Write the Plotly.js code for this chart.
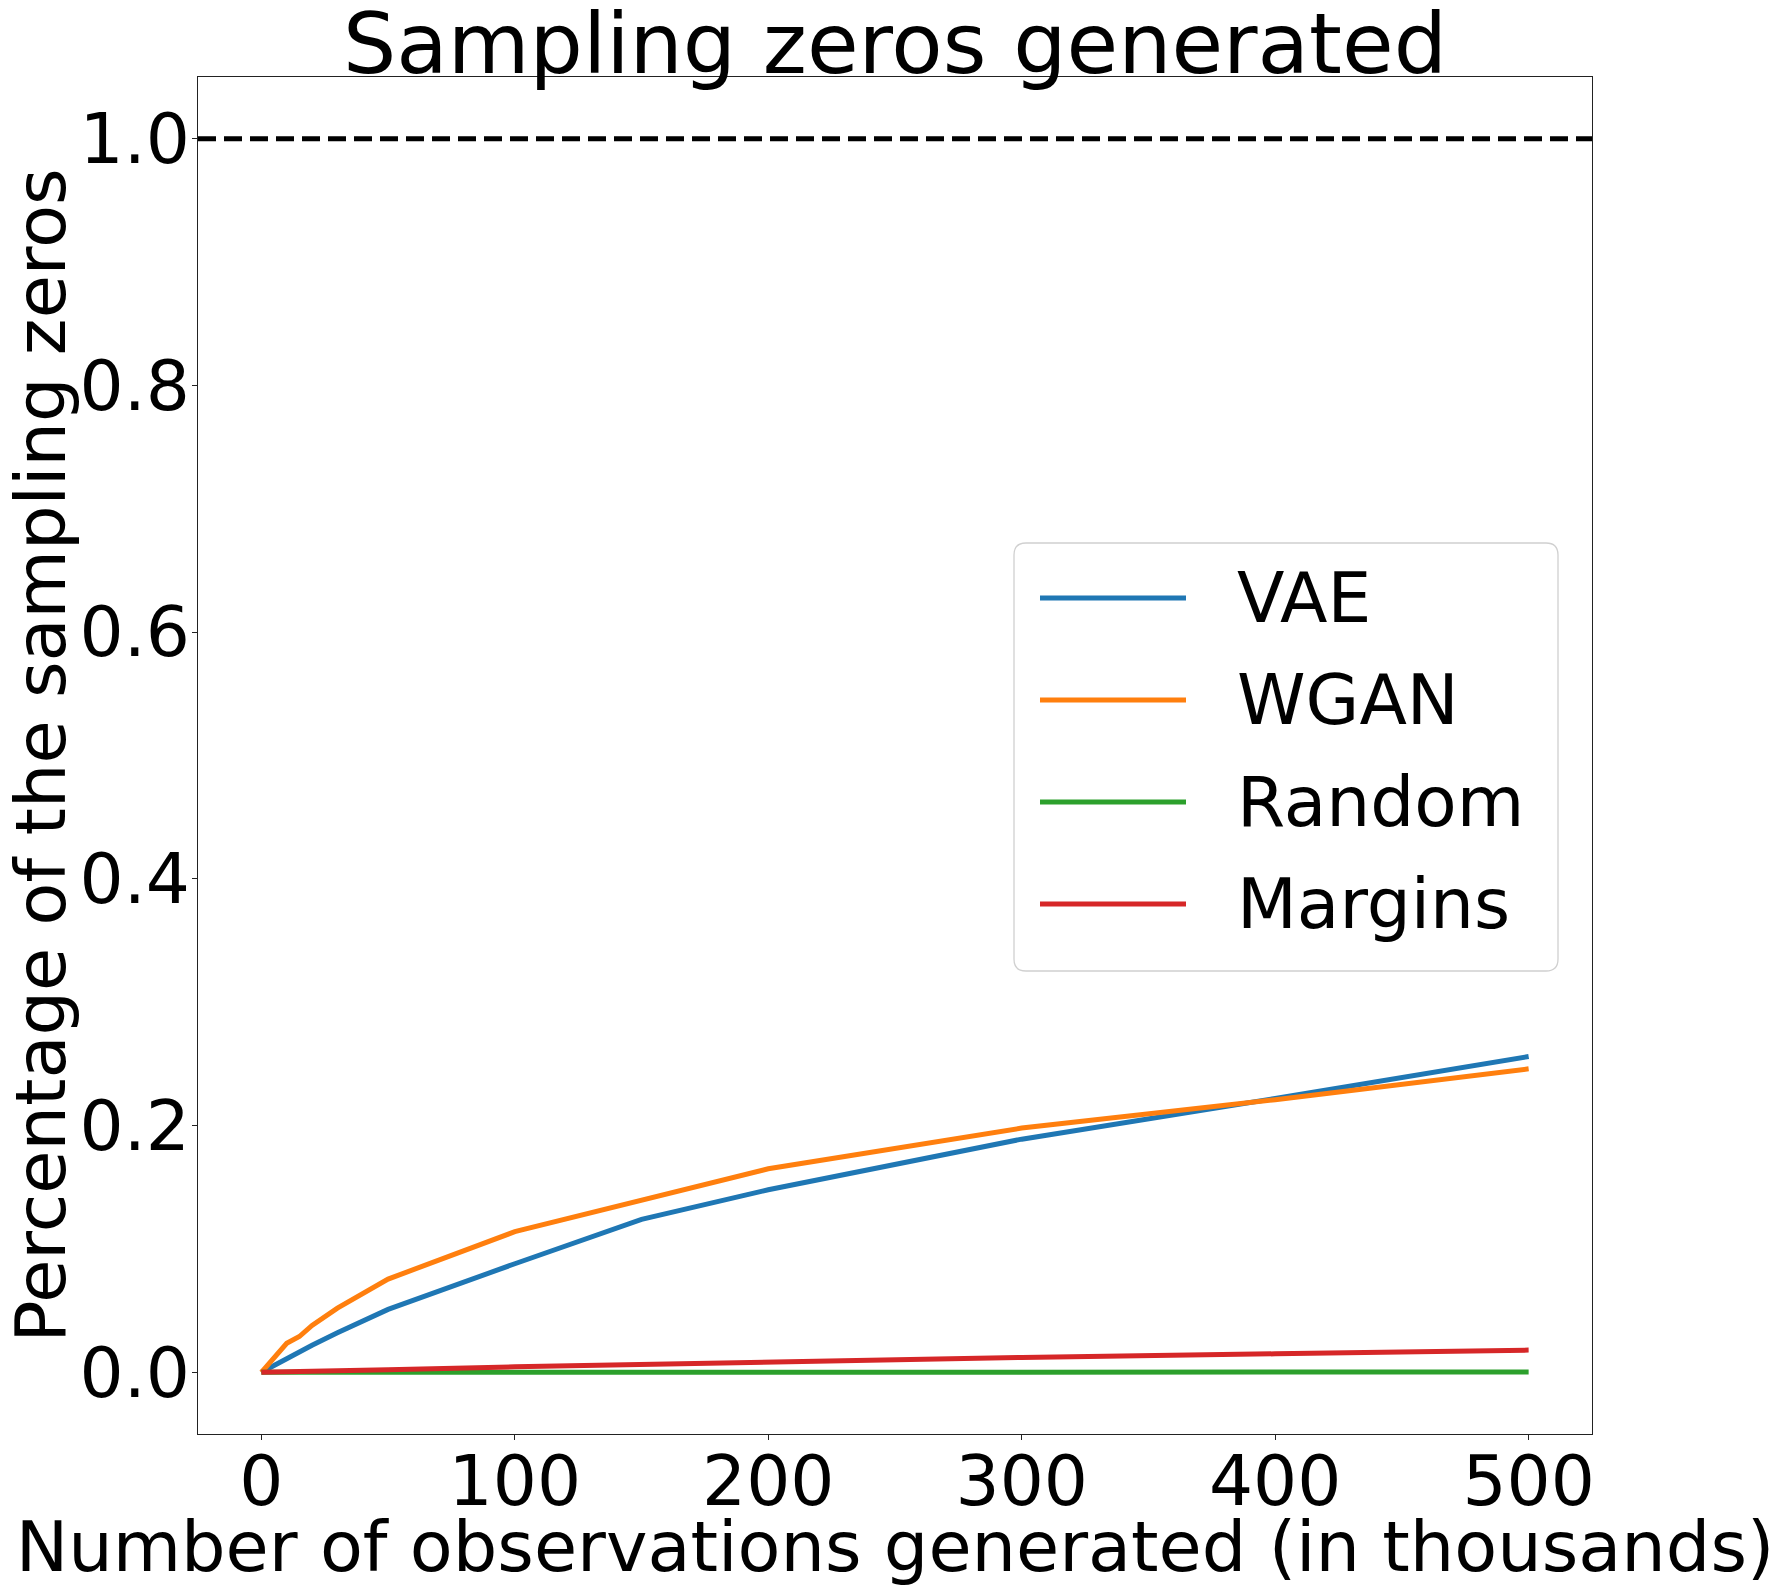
<!DOCTYPE html>
<html>
<head>
<meta charset="utf-8">
<script src="https://cdn.plot.ly/plotly-3.0.1.min.js"></script>
<style>html,body{margin:0;padding:0;background:#fff;}#chart{width:1778px;height:1588px;}</style>
</head>
<body>
<div id="chart"></div>
<script>
// ---- data ----
const xObs = [0, 10, 15, 20, 30, 50, 100, 150, 200, 300, 400, 500];
const vae = [0, 0.011, 0.017, 0.022, 0.032, 0.051, 0.088, 0.124, 0.148, 0.189, 0.222, 0.256];
const wgan = [0, 0.0235, 0.029, 0.038, 0.052, 0.0756, 0.114, 0.140, 0.165, 0.198, 0.221, 0.246];
const randomS = [0, 0, 0, 0, 0, 0, 0.0001, 0.0001, 0.0001, 0.0001, 0.0001, 0.0002];
const margins = [0, 0.0003, 0.0005, 0.001, 0.0018, 0.002, 0.0045, 0.0065, 0.009, 0.012, 0.015, 0.018];
const seriesNames = ["VAE", "WGAN", "Random", "Margins"];
const xTicks = [0, 100, 200, 300, 400, 500];
const yTicks = [0, 0.2, 0.4, 0.6, 0.8, 1.0];
const yTickLabels = ["0.0", "0.2", "0.4", "0.6", "0.8", "1.0"];
const refLevel = 1.0;

// ---- styling ----
const colors = ["#1f77b4", "#ff7f0e", "#2ca02c", "#d62728"];
const FONT = "DejaVu Sans, Liberation Sans, sans-serif";
const W = 1778, H = 1588;
const L = 198, R = 1592, T = 77, B = 1434;
const pw = R - L, ph = B - T;
const px = v => (v - L) / pw;
const py = v => (B - v) / ph;
const LW = 5;

const allY = [vae, wgan, randomS, margins];
const traces = allY.map((ys, i) => ({
  x: xObs, y: ys, type: "scatter", mode: "lines", name: seriesNames[i],
  line: {color: colors[i], width: LW}, showlegend: false, hoverinfo: "skip"
}));

// custom legend
const shapes = [];
const annotations = [];
shapes.push({type: "line", xref: "paper", yref: "y", x0: 0, x1: 1, y0: refLevel, y1: refLevel,
  line: {color: "black", width: LW, dash: "18px,8px"}});
const bx0 = px(1014), bx1 = px(1558), by1 = py(543), by0 = py(971);
const rx = 12 / pw, ry = 12 / ph;
shapes.push({type: "path", xref: "paper", yref: "paper",
  path: `M ${bx0 + rx} ${by1} L ${bx1 - rx} ${by1} Q ${bx1} ${by1} ${bx1} ${by1 - ry} L ${bx1} ${by0 + ry} Q ${bx1} ${by0} ${bx1 - rx} ${by0} L ${bx0 + rx} ${by0} Q ${bx0} ${by0} ${bx0} ${by0 + ry} L ${bx0} ${by1 - ry} Q ${bx0} ${by1} ${bx0 + rx} ${by1} Z`,
  fillcolor: "rgba(255,255,255,0.8)", line: {color: "#d0d0d0", width: 1.3}});
const rowsY = [598, 700, 802, 904];
seriesNames.forEach((n, i) => {
  shapes.push({type: "line", xref: "paper", yref: "paper", x0: px(1040), x1: px(1186),
    y0: py(rowsY[i]), y1: py(rowsY[i]), line: {color: colors[i], width: LW}});
  annotations.push({xref: "paper", yref: "paper", x: px(1235), y: py(rowsY[i]),
    xanchor: "left", yanchor: "middle", showarrow: false, text: n,
    font: {family: FONT, size: 69.4, color: "black"}});
});

const layout = {
  width: W, height: H,
  margin: {l: L, r: W - R, t: T, b: H - B, pad: 0},
  paper_bgcolor: "white", plot_bgcolor: "white",
  font: {family: FONT, color: "black"},
  title: {text: "Sampling zeros generated", font: {family: FONT, size: 84, color: "black"},
    x: (L + R) / 2 / W, xanchor: "center", xref: "container", yref: "container",
    y: 1 - 44 / H, yanchor: "middle"},
  xaxis: {
    range: [-25, 525], tickvals: xTicks, ticktext: xTicks.map(String),
    showgrid: false, zeroline: false, showline: true, mirror: true,
    linecolor: "#222", linewidth: 1.2, ticks: "outside", ticklen: 5, tickwidth: 1.2, tickcolor: "#222",
    ticklabelstandoff: -18,
    tickfont: {family: FONT, size: 69.4, color: "black"},
    title: {text: "Number of observations generated (in thousands)", font: {family: FONT, size: 70.2, color: "black"}, standoff: 8}
  },
  yaxis: {
    range: [-0.05, 1.05], tickvals: yTicks, ticktext: yTickLabels,
    showgrid: false, zeroline: false, showline: true, mirror: true,
    linecolor: "#222", linewidth: 1.2, ticks: "outside", ticklen: 5, tickwidth: 1.2, tickcolor: "#222",
    ticklabelstandoff: -12,
    tickfont: {family: FONT, size: 69.4, color: "black"},
    title: {text: "Percentage of the sampling zeros", font: {family: FONT, size: 70.2, color: "black"}, standoff: 13}
  },
  shapes: shapes,
  annotations: annotations
};

Plotly.newPlot("chart", traces, layout, {displayModeBar: false, staticPlot: true});
</script>
</body>
</html>
